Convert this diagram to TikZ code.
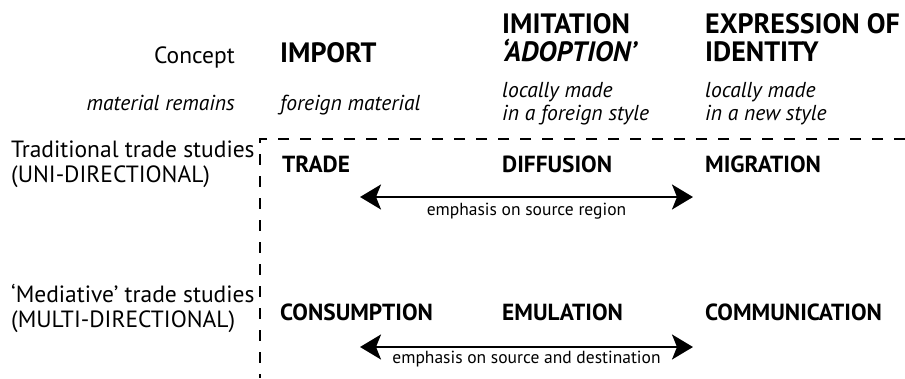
\documentclass[tikz,border=0pt]{standalone}
\usepackage{fontspec}
\setmainfont{PT Sans}
\usetikzlibrary{positioning,arrows.meta}

\tikzset{
  head/.style={font=\bfseries\fontsize{28}{27.5}\selectfont, inner sep=0pt, align=left},
  item/.style={font=\bfseries\fontsize{23.3}{23}\selectfont, inner sep=0pt},
  side/.style={font=\fontsize{23.5}{25}\selectfont, inner sep=0pt, align=left},
  note/.style={font=\itshape\fontsize{21.6}{23}\selectfont, inner sep=0pt, align=left},
  span/.style={<->, line width=2pt, >={Stealth[length=21pt,width=25pt,inset=5pt]}},
  gloss/.style={anchor=base, font=\fontsize{17.5}{17.5}\selectfont},
}

\begin{document}
\begin{tikzpicture}[x=1pt, y=-1pt]
  \useasboundingbox (0,0) rectangle (905,378);

  % column heads (base anchor sits on the last line)
  \node (concept)  [side, anchor=base east] at (235,63) {Concept};
  \node (material) [note, anchor=base east] at (235,110) {material remains};
  \node (import)     [head, anchor=base west] at (280,62) {IMPORT};
  \node (imitation)  [head, anchor=base west] at (502,61) {IMITATION\\\textit{‘ADOPTION’}};
  \node (expression) [head, anchor=base west] at (705,61) {EXPRESSION OF\\IDENTITY};
  \node (foreign)      [note, anchor=base west] at (280,110) {foreign material};
  \node (localforeign) [note, anchor=base west] at (502,120) {locally made\\in a foreign style};
  \node (localnew)     [note, anchor=base west] at (705,120) {locally made\\in a new style};

  % frame round the two kinds of study
  \draw[line width=2pt, dash pattern=on 11pt off 11pt] (905,139) -| (260,378);

  % traditional row
  \node (traditional) [side, anchor=base west] at (11,182)
    {Traditional trade studies\\(UNI-DIRECTIONAL)};
  \node (trade)     [item, anchor=base west] at (282,172) {TRADE};
  \node (diffusion) [item, anchor=base west] at (502,172) {DIFFUSION};
  \node (migration) [item, anchor=base west] at (705,172) {MIGRATION};
  \coordinate (srcL) at (360,197);
  \coordinate (srcR) at (693,197);
  \draw[span] (srcL) -- node[gloss, yshift=-18pt] {emphasis on source region} (srcR);

  % mediative row
  \node (mediative) [side, anchor=base west] at (11,327)
    {‘Mediative’ trade studies\\(MULTI-DIRECTIONAL)};
  \node (consumption)   [item, anchor=base west] at (280,320) {CONSUMPTION};
  \node (emulation)     [item, anchor=base west] at (502,320) {EMULATION};
  \node (communication) [item, anchor=base west] at (705,320) {COMMUNICATION};
  \coordinate (dstL) at (360,347);
  \coordinate (dstR) at (693,347);
  \draw[span] (dstL) -- node[gloss, yshift=-16pt] {emphasis on source and destination} (dstR);
\end{tikzpicture}
\end{document}
